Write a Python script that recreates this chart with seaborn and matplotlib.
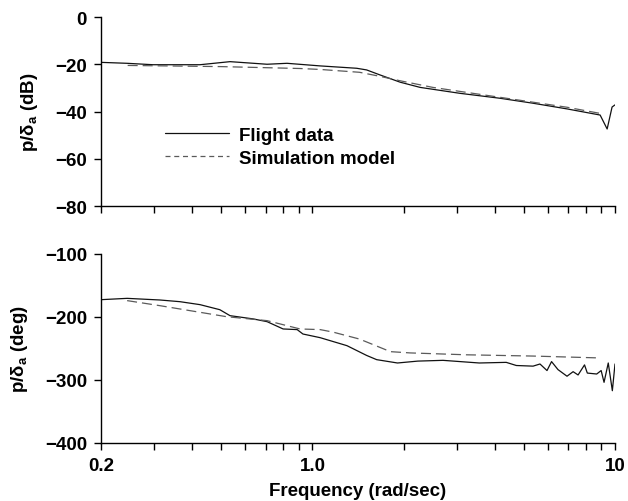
import numpy as np
import pandas as pd
import matplotlib
matplotlib.use("Agg")
import matplotlib.pyplot as plt
import seaborn as sns
from matplotlib.ticker import FixedLocator, NullFormatter
from matplotlib.lines import Line2D

# ---- data ----
mag_flight_f = [0.2, 0.244, 0.297, 0.425, 0.534, 0.708, 0.824, 1.06, 1.40, 1.51, 1.67,
                1.95, 2.27, 3.07, 4.17, 5.36, 6.94, 7.5, 8.93, 9.42, 9.78, 10.0]
mag_flight_v = [-19.2, -19.6, -20.2, -20.2, -18.9, -20.0, -19.6, -20.7, -21.7, -22.4, -24.5,
                -27.6, -29.8, -32.3, -34.4, -36.5, -38.9, -39.7, -41.5, -47.4, -38.1, -37.2]
mag_sim_f = [0.245, 0.5, 0.91, 1.06, 1.43, 1.67, 1.95, 2.5, 4.17, 6.94, 8.93]
mag_sim_v = [-20.5, -21.0, -21.8, -22.2, -23.4, -25.1, -27.0, -29.8, -34.0, -38.2, -40.8]

ph_flight_f = [0.2, 0.244, 0.313, 0.365, 0.425, 0.494, 0.534, 0.636, 0.708, 0.80, 0.89, 0.93,
               1.06, 1.30, 1.51, 1.63, 1.91, 2.23, 2.7, 3.56, 4.37, 4.72, 5.36, 5.65, 5.96,
               6.17, 6.48, 6.94, 7.27, 7.55, 7.93, 8.1, 8.7, 9.0, 9.2, 9.5, 9.8, 10.0]
ph_flight_v = [-172.5, -170.4, -173, -175.7, -180.4, -188.4, -197.9, -203, -207.4, -219, -220,
               -227, -232.8, -245.5, -261, -267.7, -273, -270, -268.8, -273, -272, -277, -278,
               -274.6, -285, -270.8, -283.5, -294, -286.8, -292, -276, -289, -290.5, -285,
               -303.7, -273, -317, -274.6]
ph_sim_f = [0.244, 0.313, 0.52, 0.708, 0.91, 1.06, 1.17, 1.43, 1.81, 2.1, 3.23, 5.36, 8.93]
ph_sim_v = [-174, -182, -199.5, -205.8, -219, -220, -224, -235, -255, -257, -260, -262, -265]

major_ticks = [0.2, 1.0, 10.0]
major_labels = ["0.2", "1.0", "10"]
minor_ticks = [0.3, 0.4, 0.5, 0.6, 0.7, 0.8, 0.9, 2, 3, 4, 5, 6, 7, 8, 9]

sns.set_style("ticks")
plt.rcParams["font.family"] = ["Liberation Sans", "DejaVu Sans"]
plt.rcParams["font.weight"] = "bold"
plt.rcParams["text.color"] = "black"
plt.rcParams["axes.labelcolor"] = "black"
plt.rcParams["xtick.color"] = "black"
plt.rcParams["ytick.color"] = "black"
plt.rcParams["mathtext.fontset"] = "custom"
plt.rcParams["mathtext.rm"] = "Liberation Sans:bold"
plt.rcParams["mathtext.it"] = "Liberation Sans:bold"
plt.rcParams["mathtext.bf"] = "Liberation Sans:bold"

fig = plt.figure(figsize=(6.28, 5.02), dpi=100)
ax1 = fig.add_axes([101/628, 1-207/502, 514/628, 189/502])
ax2 = fig.add_axes([101/628, 1-444/502, 514/628, 189/502])

fc = "#111111"
sc = "#5a5a5a"
lw = 0.9

sns.lineplot(x=mag_flight_f, y=mag_flight_v, ax=ax1, color=fc, lw=lw)
sns.lineplot(x=mag_sim_f, y=mag_sim_v, ax=ax1, color=sc, lw=lw, linestyle=(0, (8, 4)))
sns.lineplot(x=ph_flight_f, y=ph_flight_v, ax=ax2, color=fc, lw=lw)
sns.lineplot(x=ph_sim_f, y=ph_sim_v, ax=ax2, color=sc, lw=lw, linestyle=(0, (8, 4)))

fs = 13.5
for ax in (ax1, ax2):
    ax.set_xscale("log")
    ax.set_xlim(0.2, 10)
    ax.xaxis.set_major_locator(FixedLocator(major_ticks))
    ax.xaxis.set_minor_locator(FixedLocator(minor_ticks))
    ax.xaxis.set_minor_formatter(NullFormatter())
    for s in ("top", "right"):
        ax.spines[s].set_visible(False)
    for s in ("left", "bottom"):
        ax.spines[s].set_linewidth(1.0)
        ax.spines[s].set_color("black")
    ax.tick_params(which="both", direction="out", length=5, width=1.0, color="black",
                   labelcolor="black", labelsize=fs, pad=5)
    ax.set_xlabel("")

ax1.set_ylim(-80, 0)
ax1.set_yticks([0, -20, -40, -60, -80])
ax1.set_yticklabels(["0", "\u221220", "\u221240", "\u221260", "\u221280"])
ax1.set_xticklabels([])
ax1.set_ylabel(r"p/$\delta_a$ (dB)", fontsize=fs, fontweight="bold", labelpad=11)

ax2.set_ylim(-400, -100)
ax2.set_yticks([-100, -200, -300, -400])
ax2.set_yticklabels(["\u2212100", "\u2212200", "\u2212300", "\u2212400"])
ax2.set_xticklabels(major_labels)
ax2.set_ylabel(r"p/$\delta_a$ (deg)", fontsize=fs, fontweight="bold", labelpad=11)
ax2.set_xlabel("Frequency (rad/sec)", fontsize=fs, fontweight="bold", labelpad=6)

handles = [Line2D([], [], color=fc, lw=lw), Line2D([], [], color=sc, lw=lw, linestyle=(0, (4, 3)))]
ax1.legend(handles, ["Flight data", "Simulation model"], loc="upper left",
           bbox_to_anchor=(0.092, 0.508), frameon=False, fontsize=fs,
           handlelength=3.4, handletextpad=0.55, labelspacing=0.3)

fig.savefig("out.png", dpi=100)
